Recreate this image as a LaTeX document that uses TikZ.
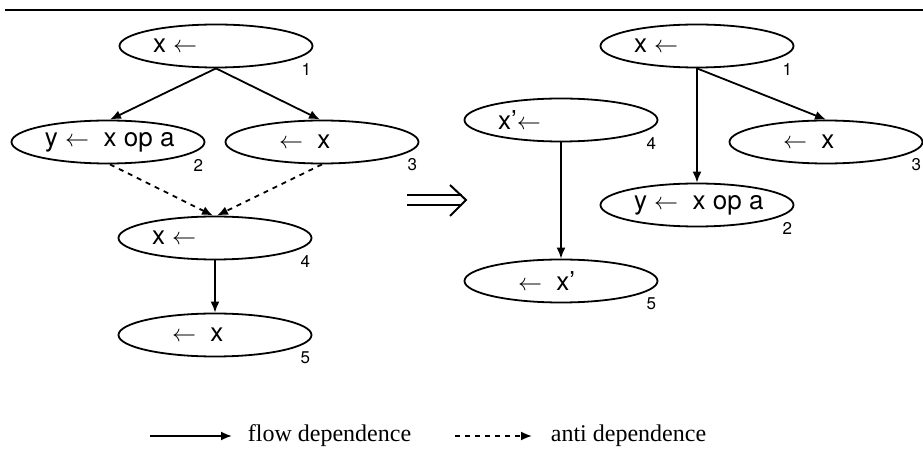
\documentclass[tikz,border=0pt]{standalone}
\usepackage{fontspec}
\setmainfont{Liberation Serif}
\setsansfont{TeX Gyre Heros}
\usetikzlibrary{arrows.meta,positioning,calc,shapes.geometric}

% statement text, left aligned in a box of fixed width
\newcommand{\stm}[1]{\makebox[63pt][l]{#1}}

\begin{document}
\begin{tikzpicture}[x=0.5pt, y=-0.5pt, line width=0.9pt,
  stmt/.style={draw, ellipse, minimum width=96.5pt, minimum height=21.5pt,
    inner sep=0pt, font=\sffamily\fontsize{13}{15}\selectfont},
  num/.style={font=\sffamily\fontsize{8.5}{10}\selectfont, inner sep=0pt},
  flow/.style={-{Latex[length=5.5pt,width=4.5pt]}},
  anti/.style={flow, dash pattern=on 2.5pt off 2.5pt},
  legend/.style={font=\rmfamily\fontsize{12}{14}\selectfont, anchor=base west, inner sep=0pt}]
  \useasboundingbox (0,0) rectangle (923,460);
  \def\ind{\hspace*{10pt}}
  % rule on top
  \draw[line width=1pt] (5,10) -- (923,10);
  % left graph: before renaming
  \node[stmt] (a1) at (216,46)  {\stm{x $\leftarrow$}};
  \node[stmt] (a2) at (108,142) {\stm{y $\leftarrow$\ \ x op a}};
  \node[stmt] (a3) at (322,142) {\stm{\ind$\leftarrow$\ \ x}};
  \node[stmt] (a4) at (215,238) {\stm{x $\leftarrow$}};
  \node[stmt] (a5) at (215,335) {\stm{\ind$\leftarrow$\ \ x}};
  \draw[flow] (a1.south) -- (a2.85);
  \draw[flow] (a1.south) -- (a3.95);
  \draw[anti] (a2.-85) -- (a4.95);
  \draw[anti] (a3.south) -- (a4.85);
  \draw[flow] (a4) -- (a5);
  % implies sign
  \coordinate (imp) at (436,200);
  \draw[line width=1pt] ($(imp)+(-29,-5)$) -- ($(imp)+(26,-5)$);
  \draw[line width=1pt] ($(imp)+(-29,5)$) -- ($(imp)+(26,5)$);
  \draw[line width=1pt] ($(imp)+(14,-15)$) -- ($(imp)+(30,0)$) -- ($(imp)+(14,16)$);
  % right graph: after renaming
  \node[stmt] (b1) at (697,46)  {\stm{x $\leftarrow$}};
  \node[stmt] (b4) at (561,120) {\stm{x'$\leftarrow$}};
  \node[stmt] (b3) at (826,142) {\stm{\ind$\leftarrow$\ \ x}};
  \node[stmt] (b2) at (697,205) {\stm{y $\leftarrow$\ \ x op a}};
  \node[stmt] (b5) at (561,281) {\stm{\ind$\leftarrow$\ \ x'}};
  \draw[flow] (b1) -- (b2);
  \draw[flow] (b1.south) -- (b3.north);
  \draw[flow] (b4) -- (b5);
  % statement numbers
  \foreach \n/\k in {a1/1,a2/2,a3/3,a4/4,a5/5,b1/1,b2/2,b3/3,b4/4,b5/5}
    \node[num] (l\n) at ($(\n.east)+(-7,23)$) {\k};
  % legend
  \coordinate (fs) at (150,436);
  \coordinate (fe) at (232,436);
  \coordinate (as) at (455,436);
  \coordinate (ae) at (532,436);
  \draw[flow] (fs) -- (fe);
  \node[legend] (lf) at (247,442) {flow dependence};
  \draw[anti] (as) -- (ae);
  \node[legend] (la) at (550,442) {anti dependence};
\end{tikzpicture}
\end{document}
